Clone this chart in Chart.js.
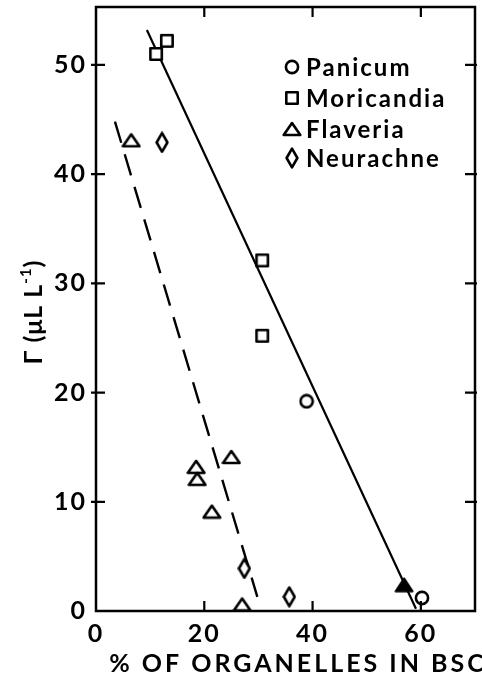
<!DOCTYPE html>
<html>
<head>
<meta charset="utf-8">
<script src="https://cdn.jsdelivr.net/npm/chart.js@4.4.0/dist/chart.umd.min.js"></script>
<style>
  html, body { margin: 0; padding: 0; background: #fff; }
  #wrap { width: 482px; height: 674px; }
</style>
</head>
<body>
<div id="wrap"><canvas id="chart" width="482" height="674"></canvas></div>
<script>
// values
const panicumX = [38.9, 60.2];
const panicumY = [19.2, 1.2];
const moricandiaX = [11.1, 13.1, 30.7, 30.7];
const moricandiaY = [51.0, 52.2, 32.1, 25.2];
const flaveriaX = [6.5, 18.5, 18.7, 21.4, 25.0, 27.0];
const flaveriaY = [43.1, 13.2, 12.1, 9.1, 14.1, 0.6];
const neurachneX = [12.2, 27.4, 35.7];
const neurachneY = [42.9, 3.9, 1.3];
const filledX = [56.9];
const filledY = [2.4];

// the two fitted lines, end points
const solidLineX = [9.4, 59.1];
const solidLineY = [53.2, 0.2];
const dashLineX = [3.5, 29.8];
const dashLineY = [44.8, 1.3];

const xTicks = [0, 20, 40, 60];
const yTicks = [0, 10, 20, 30, 40, 50];
const legendNames = ["Panicum", "Moricandia", "Flaveria", "Neurachne"];

const FONT = "Lato, 'DejaVu Sans', sans-serif";

function pts(xs, ys) {
  return xs.map((x, i) => ({ x: x, y: ys[i] }));
}

// marker images
function marker(w, h, draw) {
  const c = document.createElement("canvas");
  c.width = w; c.height = h;
  const g = c.getContext("2d");
  g.lineWidth = 2.6;
  g.lineJoin = "round";
  g.strokeStyle = "#000";
  g.fillStyle = "#fff";
  g.beginPath();
  draw(g);
  g.closePath();
  g.fill();
  g.stroke();
  return c;
}
const circleImg = marker(16, 16, g => g.arc(8, 8, 6.1, 0, Math.PI * 2));
const squareImg = marker(16, 16, g => g.rect(2.3, 2.3, 11.4, 11.4));
const triImg = marker(20, 16, g => { g.moveTo(10, 2); g.lineTo(18.3, 14); g.lineTo(1.7, 14); });
const diamondImg = marker(14, 22, g => { g.moveTo(7, 1.6); g.lineTo(12.4, 11); g.lineTo(7, 20.4); g.lineTo(1.6, 11); });
const filledTriImg = (() => {
  const c = document.createElement("canvas");
  c.width = 20; c.height = 16;
  const g = c.getContext("2d");
  g.lineJoin = "round"; g.lineWidth = 2;
  g.beginPath(); g.moveTo(10, 1.5); g.lineTo(18.5, 14.5); g.lineTo(1.5, 14.5); g.closePath();
  g.fillStyle = "#000"; g.fill(); g.stroke();
  return c;
})();
const legendImgs = [circleImg, squareImg, triImg, diamondImg];

// frame, inward ticks, legend, axis titles
const decor = {
  id: "decor",
  beforeDraw(chart) {
    chart.ctx.letterSpacing = "2px";
  },
  afterDraw(chart) {
    const ctx = chart.ctx;
    const a = chart.chartArea;
    const xs = chart.scales.x, ys = chart.scales.y;
    ctx.save();
    ctx.strokeStyle = "#000";
    ctx.lineWidth = 2.5;
    ctx.lineCap = "butt";
    ctx.strokeRect(a.left, a.top, a.right - a.left, a.bottom - a.top);
    ctx.lineWidth = 2.2;
    ctx.beginPath();
    xTicks.forEach(v => {
      if (v === 0) return;
      const px = xs.getPixelForValue(v);
      ctx.moveTo(px, a.bottom); ctx.lineTo(px, a.bottom - 10);
      ctx.moveTo(px, a.top); ctx.lineTo(px, a.top + 10);
    });
    yTicks.forEach(v => {
      if (v === 0) return;
      const py = ys.getPixelForValue(v);
      ctx.moveTo(a.left - 5, py); ctx.lineTo(a.left + 9, py);
      ctx.moveTo(a.right + 2, py); ctx.lineTo(a.right - 10, py);
    });
    ctx.stroke();

    // legend
    ctx.letterSpacing = "2px";
    ctx.font = "bold 24px " + FONT;
    ctx.fillStyle = "#000";
    ctx.textAlign = "left";
    ctx.textBaseline = "alphabetic";
    const rows = [67, 98, 129, 158];
    legendNames.forEach((name, i) => {
      const img = legendImgs[i];
      ctx.drawImage(img, 292 - img.width / 2, rows[i] - img.height / 2);
      ctx.fillText(name, 306, rows[i] + 9);
    });

    // x title
    ctx.letterSpacing = "3px";
    ctx.font = "bold 25px " + FONT;
    ctx.textAlign = "center";
    ctx.fillText("% OF ORGANELLES IN BSC", 298, 672);

    // y title, rotated, with superscript
    ctx.translate(42, 312);
    ctx.rotate(-Math.PI / 2);
    ctx.textAlign = "left";
    ctx.letterSpacing = "1px";
    const big = "bold 25px " + FONT, small = "bold 15px " + FONT;
    const parts = [["Γ (μL L", big, 0], ["-1", small, -11], [")", big, 0]];
    let total = 0;
    parts.forEach(p => { ctx.font = p[1]; total += ctx.measureText(p[0]).width; });
    let u = -total / 2;
    parts.forEach(p => {
      ctx.font = p[1];
      ctx.fillText(p[0], u, p[2]);
      u += ctx.measureText(p[0]).width;
    });
    ctx.restore();
    ctx.letterSpacing = "0px";
  }
};

const markerSet = (label, xs, ys, img) => ({
  label: label,
  data: pts(xs, ys),
  pointStyle: img,
  pointRadius: 6,
  pointHoverRadius: 6,
  showLine: false,
  order: 0
});

new Chart(document.getElementById("chart"), {
  type: "scatter",
  data: {
    datasets: [
      markerSet("Panicum", panicumX, panicumY, circleImg),
      markerSet("Moricandia", moricandiaX, moricandiaY, squareImg),
      markerSet("Flaveria", flaveriaX, flaveriaY, triImg),
      markerSet("Neurachne", neurachneX, neurachneY, diamondImg),
      markerSet("filled", filledX, filledY, filledTriImg),
      {
        label: "fit solid",
        data: pts(solidLineX, solidLineY),
        showLine: true,
        borderColor: "#000",
        borderWidth: 2.2,
        pointRadius: 0,
        order: 5
      },
      {
        label: "fit dashed",
        data: pts(dashLineX, dashLineY),
        showLine: true,
        borderColor: "#000",
        borderWidth: 2.4,
        borderDash: [22, 12],
        pointRadius: 0,
        order: 5
      }
    ]
  },
  options: {
    responsive: false,
    animation: false,
    devicePixelRatio: 1,
    layout: { padding: { left: 0, right: 6, top: 7, bottom: 0 } },
    plugins: {
      legend: { display: false },
      tooltip: { enabled: false }
    },
    scales: {
      x: {
        type: "linear",
        min: 0,
        max: 70,
        grid: { display: false },
        border: { display: false },
        afterFit: s => { s.height = 63; s.paddingLeft = 0; s.paddingRight = 0; },
        afterBuildTicks: s => { s.ticks = xTicks.map(v => ({ value: v })); },
        ticks: {
          color: "#000",
          padding: 0,
          maxRotation: 0,
          font: { family: FONT, size: 25, weight: "bold" }
        }
      },
      y: {
        type: "linear",
        min: 0,
        max: 55.3,
        grid: { display: false },
        border: { display: false },
        afterFit: s => { s.width = 96; s.paddingTop = 0; s.paddingBottom = 0; },
        afterBuildTicks: s => { s.ticks = yTicks.map(v => ({ value: v })); },
        ticks: {
          color: "#000",
          padding: 1,
          font: { family: FONT, size: 25, weight: "bold" }
        }
      }
    }
  },
  plugins: [decor]
});
</script>
</body>
</html>
